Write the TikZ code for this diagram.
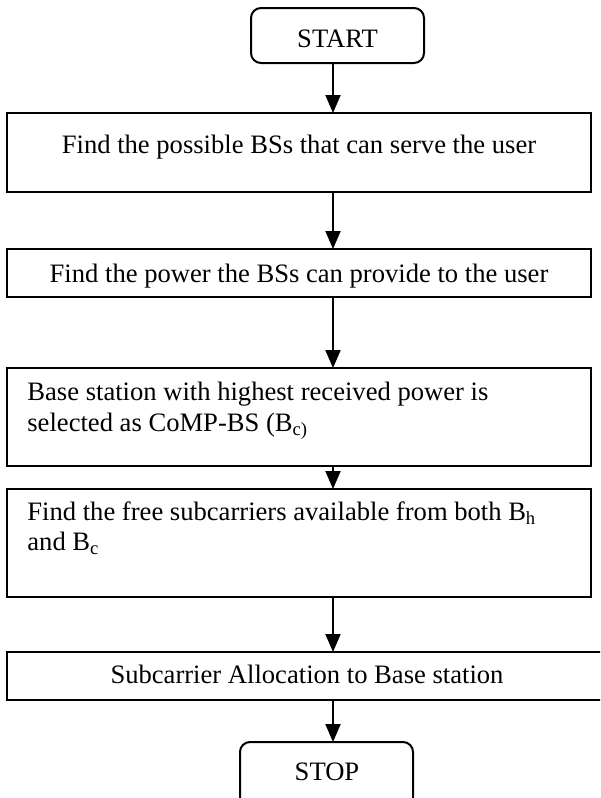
\documentclass[tikz,border=0pt]{standalone}
\usepackage{fontspec}
\setmainfont{Liberation Serif}
\usetikzlibrary{arrows.meta}
\begin{document}
\begin{tikzpicture}[x=0.5pt,y=-0.5pt,
  box/.style={draw,line width=1pt,inner sep=0pt,outer sep=0pt},
  term/.style={box,rounded corners=5pt},
  lbl/.style={inner sep=0pt,font=\fontsize{13.3}{15.5}\selectfont},
  arr/.style={line width=1pt,-{Triangle[length=9pt,width=7.5pt]}}]
\useasboundingbox (0,0) rectangle (600,798);
\clip (0,0) rectangle (600,798);
% boxes
\node[term,minimum width=86.5pt,minimum height=27.5pt] (start) at (337.5,35.5) {};
\node[box,minimum width=292pt,minimum height=39.5pt] (b1) at (299,152.5) {};
\node[box,minimum width=292pt,minimum height=24pt] (b2) at (299,273) {};
\node[box,minimum width=292pt,minimum height=49pt] (b3) at (299,417) {};
\node[box,minimum width=292pt,minimum height=54pt] (b4) at (299,543) {};
\node[box,minimum width=299pt,minimum height=24pt] (b5) at (306,676) {};
\node[term,minimum width=86.5pt,minimum height=34pt] (stop) at (326.5,776) {};
% texts
\node[lbl,anchor=base] (t0) at (337.5,47) {START};
\node[lbl,anchor=base] (t1) at (299,153) {Find the possible BSs that can serve the user};
\node[lbl,anchor=base] (t2) at (299,282) {Find the power the BSs can provide to the user};
\node[lbl,anchor=base west] (t3a) at (27,400) {Base station with highest received power is};
\node[lbl,anchor=base west] (t3b) at (27,431) {selected as CoMP-BS (B\textsubscript{c)}};
\node[lbl,anchor=base west] (t4a) at (27,520) {Find the free subcarriers available from both B\textsubscript{h}};
\node[lbl,anchor=base west] (t4b) at (27,550) {and B\textsubscript{c}};
\node[lbl,anchor=base] (t5) at (307,683) {Subcarrier Allocation to Base station};
\node[lbl,anchor=base] (t6) at (327,780) {STOP};
% connectors
\coordinate (ax) at (333,0);
\draw[arr] (start.south -| ax) -- (b1.north -| ax);
\draw[arr] (b1.south -| ax) -- (b2.north -| ax);
\draw[arr] (b2.south -| ax) -- (b3.north -| ax);
\draw[arr] (b3.south -| ax) -- (b4.north -| ax);
\draw[arr] (b4.south -| ax) -- (b5.north -| ax);
\draw[arr] (b5.south -| ax) -- (stop.north -| ax);
\end{tikzpicture}
\end{document}
